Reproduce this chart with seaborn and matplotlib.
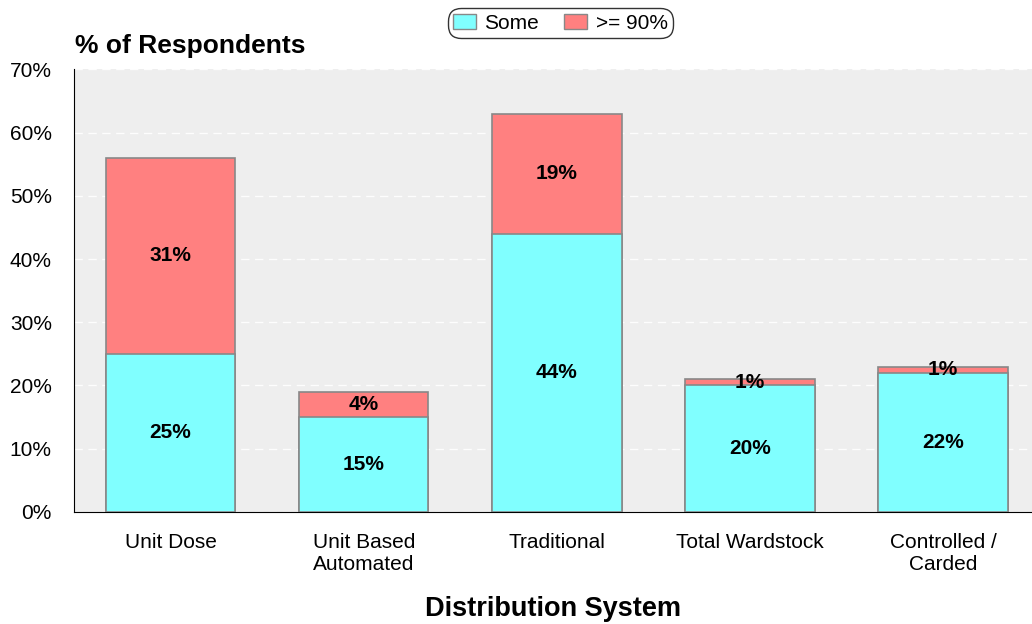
import pandas as pd
import seaborn as sns
import matplotlib.pyplot as plt
from matplotlib.patches import Patch

# data
systems = ['Unit Dose', 'Unit Based\nAutomated', 'Traditional', 'Total Wardstock', 'Controlled /\nCarded']
some = [25, 15, 44, 20, 22]
high = [31, 4, 19, 1, 1]

df = pd.DataFrame({'system': systems, 'some': some, 'high': high})
df['total'] = df['some'] + df['high']

sns.set_style('white')
plt.rcParams['font.family'] = ['Liberation Sans', 'DejaVu Sans']
plt.rcParams['text.color'] = 'black'
plt.rcParams['axes.labelcolor'] = 'black'
plt.rcParams['xtick.color'] = 'black'
plt.rcParams['ytick.color'] = 'black'

fig = plt.figure(figsize=(10.32, 6.24), dpi=100)
ax = fig.add_axes([0.0717, 0.1795, 0.9283, 0.7095])
ax.set_facecolor('#eeeeee')

c_some = '#80ffff'
c_high = '#ff8080'

# red total first, cyan "some" drawn over it -> stacked look
sns.barplot(data=df, x='system', y='total', color=c_high, saturation=1, width=0.67,
            edgecolor='#888888', linewidth=1.2, ax=ax, zorder=3)
sns.barplot(data=df, x='system', y='some', color=c_some, saturation=1, width=0.67,
            edgecolor='#888888', linewidth=1.2, ax=ax, zorder=3)

# segment labels
for i, row in df.iterrows():
    ax.text(i, row['some'] / 2, f"{row['some']}%", ha='center', va='center',
            fontsize=15, fontweight='bold', zorder=5)
    ax.text(i, row['some'] + row['high'] / 2, f"{row['high']}%", ha='center', va='center',
            fontsize=15, fontweight='bold', zorder=5)

ax.set_ylim(0, 70)
ax.set_xlim(-0.5, 4.46)
ax.set_yticks(range(0, 71, 10))
ax.set_yticklabels([f'{v}%' for v in range(0, 71, 10)])
ax.yaxis.grid(True, color='white', linestyle=(0, (6, 4)), linewidth=1, alpha=0.9, zorder=0)
ax.set_axisbelow(True)
ax.tick_params(axis='both', length=0, labelsize=15)
ax.tick_params(axis='y', pad=16)
ax.tick_params(axis='x', pad=15)

for s in ['top', 'right']:
    ax.spines[s].set_visible(False)
ax.spines['left'].set_color('black')
ax.spines['bottom'].set_color('black')

ax.set_xlabel('Distribution System', fontsize=19.5, fontweight='bold', labelpad=16)
ax.set_ylabel('')
fig.text(0.073, 0.907, '% of Respondents', fontsize=19, fontweight='bold', ha='left', va='bottom')

handles = [Patch(facecolor=c_some, edgecolor='#888888', label='Some'),
           Patch(facecolor=c_high, edgecolor='#888888', label='>= 90%')]
leg = fig.legend(handles=handles, loc='upper center', bbox_to_anchor=(0.543, 1.0), ncol=2,
                 fontsize=15, frameon=True, fancybox=True, edgecolor='black',
                 handlelength=1.1, handleheight=0.8, columnspacing=1.2, handletextpad=0.4,
                 borderpad=0.25, borderaxespad=0.4)
leg.get_frame().set_linewidth(1.0)
leg.get_frame().set_boxstyle('round', pad=0, rounding_size=0.6)

fig.savefig('out.png', dpi=100)
